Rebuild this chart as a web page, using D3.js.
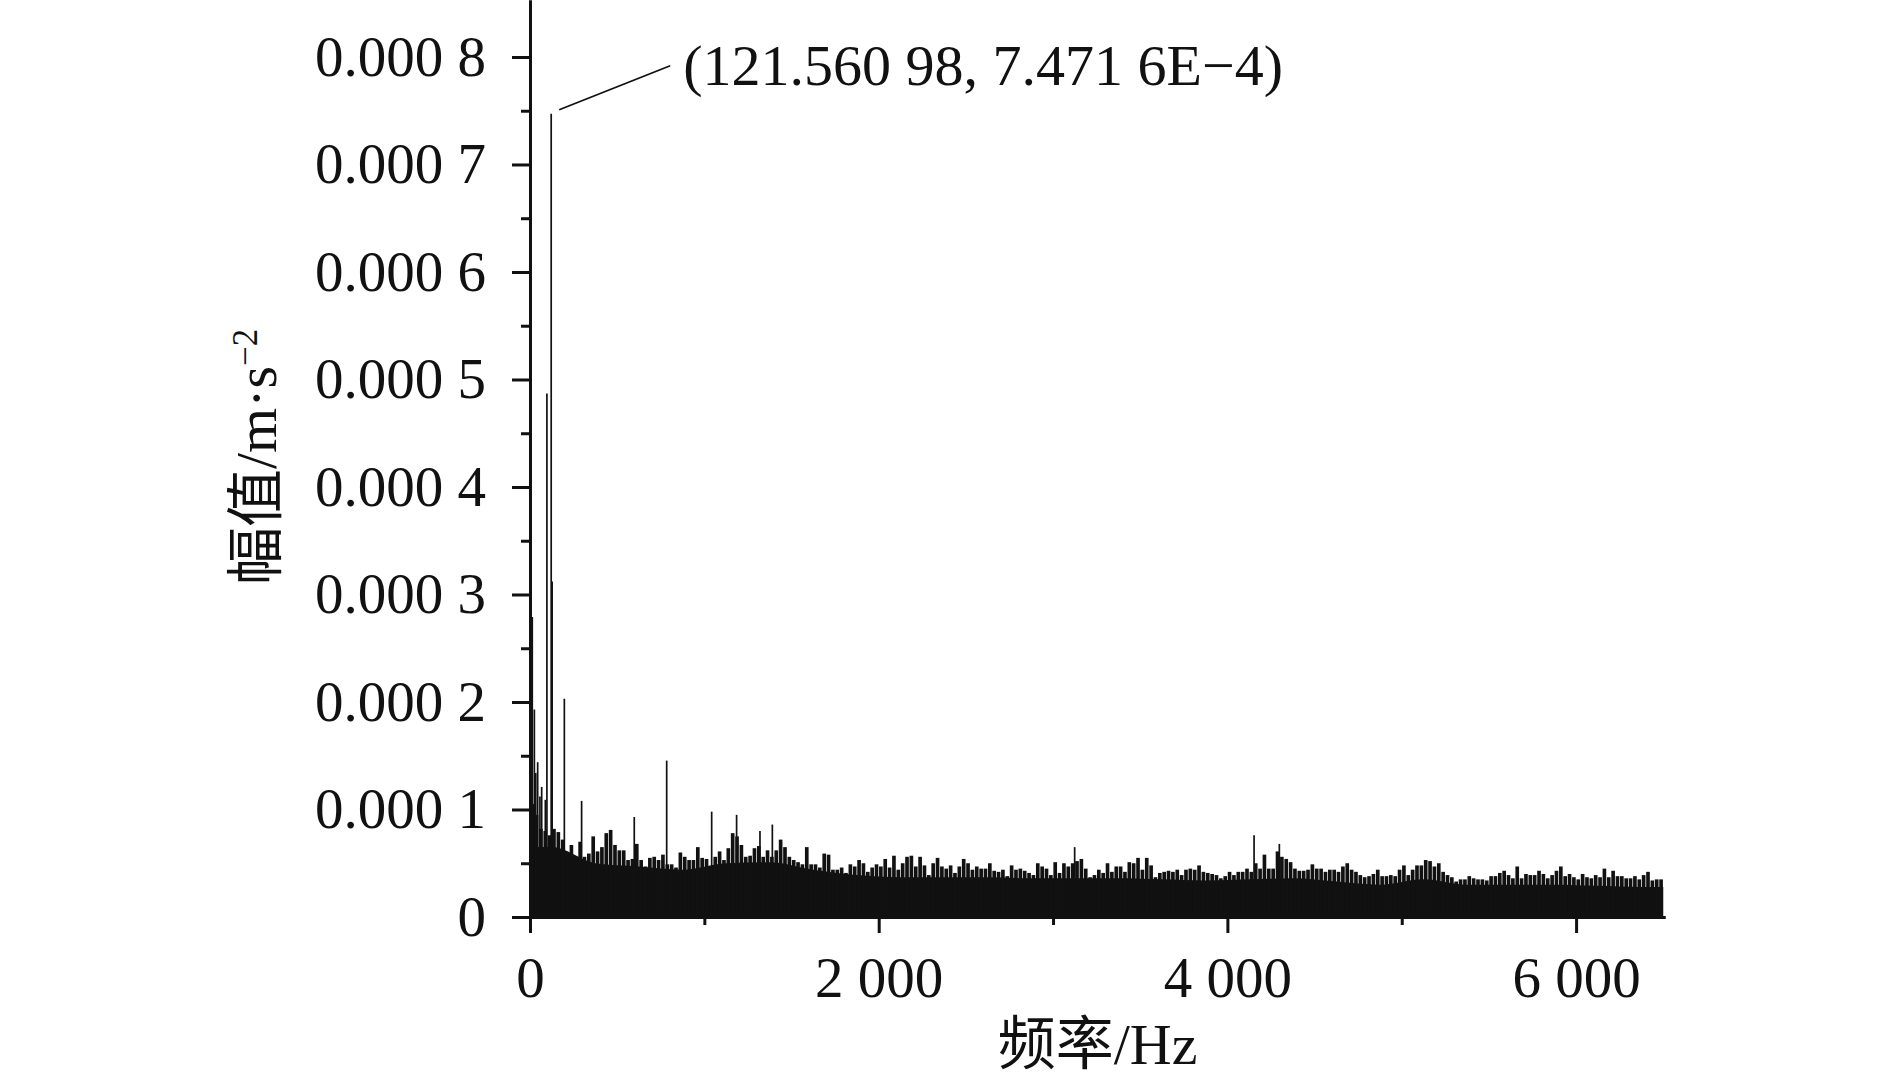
<!DOCTYPE html>
<html>
<head>
<meta charset="utf-8">
<script src="https://cdn.jsdelivr.net/npm/d3@7"></script>
<style>
  body { margin: 0; background: #fff; }
  svg { display: block; font-family: "Liberation Serif", "Times New Roman", "Noto Sans CJK SC", serif; }
</style>
</head>
<body>
<svg id="canvas" width="1890" height="1079"></svg>
<script>
// amplitude values are in units of 1e-5 m/s^2
let ampUnit = 1e-5;

// highest value in each 25 Hz bin (0 .. 6500 Hz)
let binHz = 25;
let envelope = [
  10.5, 9.5, 8.2, 8.0, 7.6, 8.2, 7.9, 7.2, 5.6, 6.7,   // 0
  5.6, 7.0, 5.6, 5.9, 7.5, 6.1, 6.5, 7.8, 8.1, 6.7,    // 250
  6.2, 6.2, 5.3, 5.4, 6.8, 5.3, 4.7, 5.5, 5.6, 5.3,    // 500
  5.8, 4.9, 4.9, 4.6, 6.0, 5.6, 5.3, 5.3, 6.5, 5.5,    // 750
  5.4, 4.6, 5.6, 6.1, 5.3, 6.4, 7.8, 7.5, 6.7, 5.6,    // 1000
  5.7, 6.4, 6.6, 5.6, 6.2, 5.6, 6.2, 7.2, 6.5, 5.6,    // 1250
  5.3, 5.1, 4.9, 6.5, 4.9, 4.9, 4.6, 5.9, 5.8, 4.4,    // 1500
  4.4, 4.6, 4.1, 4.9, 4.7, 5.3, 5.0, 4.2, 4.6, 4.9,    // 1750
  4.7, 5.4, 4.6, 5.7, 4.4, 5.0, 5.6, 5.7, 4.7, 5.6,    // 2000
  4.8, 3.9, 5.0, 5.5, 4.7, 4.5, 4.8, 4.1, 4.7, 5.4,    // 2250
  5.0, 4.4, 4.7, 4.5, 4.5, 5.0, 4.3, 4.2, 4.4, 3.8,    // 2500
  4.8, 4.4, 4.5, 4.3, 4.1, 3.9, 5.0, 4.7, 4.5, 3.9,    // 2750
  5.1, 4.1, 5.0, 4.7, 5.0, 5.2, 5.4, 4.5, 3.7, 3.9,    // 3000
  4.4, 4.1, 5.0, 4.2, 4.7, 4.7, 4.2, 5.1, 5.0, 5.5,    // 3250
  4.4, 5.5, 4.8, 3.7, 4.1, 4.2, 4.3, 4.2, 4.4, 3.9,    // 3500
  4.4, 4.5, 4.4, 4.8, 4.2, 4.1, 4.0, 3.9, 3.6, 3.8,    // 3750
  4.2, 3.9, 4.2, 4.2, 4.5, 4.2, 5.0, 4.5, 5.8, 4.5,    // 4000
  4.5, 6.1, 5.6, 5.4, 5.1, 4.5, 4.3, 4.3, 4.4, 4.9,    // 4250
  4.5, 4.5, 4.2, 4.4, 4.4, 4.2, 4.7, 5.0, 4.4, 4.2,    // 4500
  3.9, 3.7, 3.8, 4.0, 4.4, 3.8, 3.8, 3.9, 3.8, 4.4,    // 4750
  4.8, 3.9, 4.4, 4.8, 4.8, 5.3, 5.2, 4.7, 5.0, 4.2,    // 5000
  3.9, 3.7, 3.3, 3.5, 3.5, 3.8, 3.6, 3.5, 3.5, 3.4,    // 5250
  3.8, 3.8, 4.1, 4.3, 3.9, 3.6, 4.7, 3.6, 4.0, 3.9,    // 5500
  3.9, 4.3, 4.0, 3.6, 3.9, 4.3, 4.7, 3.8, 4.0, 3.7,    // 5750
  3.5, 4.0, 3.7, 3.6, 3.9, 3.7, 4.5, 3.7, 4.3, 3.8,    // 6000
  3.8, 3.6, 3.6, 3.8, 3.5, 3.9, 4.2, 3.4, 3.5, 3.5     // 6250
];

// solid (dense) level of the spectrum in each 250 Hz band
let floorHz = 250;
let floorLevel = [
  6.5, 5.0, 4.7, 4.4, 5.0, 5.1, 4.4, 3.9, 3.7, 3.7,
  3.7, 3.6, 3.6, 3.6, 3.5, 3.4, 3.5, 3.6, 3.3, 3.0,
  3.5, 3.0, 3.0, 3.0, 2.9, 2.8
];

// isolated tall lines
let spikeFreq = [13, 25, 33, 44, 57, 67, 88, 97, 121.56098, 127, 197, 296, 598, 784, 1042, 1185, 1319, 1390, 3124, 4153, 4298];
let spikeAmp  = [27.9, 19.3, 13.4, 14.4, 11.2, 12.1, 10.9, 48.7, 74.716, 31.2, 20.3, 10.8, 9.3, 14.55, 9.8, 9.5, 8.0, 8.6, 6.5, 7.6, 6.8];

let xTicks = [0, 2000, 4000, 6000];
let xMinorTicks = [1000, 3000, 5000];
let yTicks = [0, 0.0001, 0.0002, 0.0003, 0.0004, 0.0005, 0.0006, 0.0007, 0.0008];
let yMinorTicks = [0.00005, 0.00015, 0.00025, 0.00035, 0.00045, 0.00055, 0.00065, 0.00075];

let peakFreq = 121.56098;
let peakAmp = 7.4716e-4;
let peakLabel = '(121.560 98, 7.471 6E\u22124)';

let xTitle = '频率/Hz';
let yTitle = '幅值/m·s';
let yTitleSup = '\u22122';

let ink = '#111';
let canvas = d3.select('#canvas');

let x = d3.scaleLinear().domain([0, 6510]).range([530, 1665]);
let y = d3.scaleLinear().domain([0, 0.000853]).range([917, 0]);

let plot = canvas.append('g');

// dense part of the spectrum
let floorData = floorLevel.map((v, i) => ({ f: i * floorHz + floorHz / 2, a: v * ampUnit }));
floorData.unshift({ f: 0, a: floorLevel[0] * ampUnit });
floorData.push({ f: 6500, a: floorLevel[floorLevel.length - 1] * ampUnit });

plot.append('path')
  .datum(floorData)
  .attr('fill', ink)
  .attr('d', d3.area()
    .x(d => x(d.f))
    .y0(y(0))
    .y1(d => y(d.a))
    .curve(d3.curveMonotoneX));

// per-bin peaks
let binW = x(binHz) - x(0);
plot.selectAll('rect.bin')
  .data(envelope)
  .enter()
  .append('rect')
  .attr('class', 'bin')
  .attr('x', (d, i) => x(i * binHz + binHz / 2) - binW * 0.42)
  .attr('width', binW * 0.84)
  .attr('y', d => y(d * ampUnit))
  .attr('height', d => y(0) - y(d * ampUnit))
  .attr('fill', ink);

// tall lines
plot.selectAll('line.spike')
  .data(spikeFreq)
  .enter()
  .append('line')
  .attr('class', 'spike')
  .attr('x1', d => x(d))
  .attr('x2', d => x(d))
  .attr('y1', y(0))
  .attr('y2', (d, i) => y(spikeAmp[i] * ampUnit))
  .attr('stroke', ink)
  .attr('stroke-width', 1.7);

// axes
let fmtX = d => d === 0 ? '0' : d3.format(',')(d).replace(',', ' ');
let fmtY = d => d === 0 ? '0' : '0.000 ' + Math.round(d * 1e4);

canvas.append('g')
  .attr('transform', `translate(0,${y(0)})`)
  .call(d3.axisBottom(x).tickValues(xTicks).tickFormat(fmtX).tickSize(16).tickSizeOuter(0).tickPadding(24));

canvas.append('g')
  .attr('transform', `translate(0,${y(0)})`)
  .call(d3.axisBottom(x).tickValues(xMinorTicks).tickFormat('').tickSize(8).tickSizeOuter(0));

canvas.append('g')
  .attr('transform', `translate(${x(0)},0)`)
  .call(d3.axisLeft(y).tickValues(yTicks).tickFormat(fmtY).tickSize(18).tickSizeOuter(0).tickPadding(26));

canvas.append('g')
  .attr('transform', `translate(${x(0)},0)`)
  .call(d3.axisLeft(y).tickValues(yMinorTicks).tickFormat('').tickSize(9).tickSizeOuter(0));

canvas.selectAll('.domain').attr('stroke', ink).attr('stroke-width', 3);
canvas.selectAll('.tick line').attr('stroke', ink).attr('stroke-width', 3);
canvas.selectAll('.tick text')
  .attr('fill', ink)
  .style('font-family', '"Liberation Serif", "Times New Roman", serif')
  .style('font-size', '57px');

// axis titles
canvas.append('text')
  .attr('x', (x(0) + x(6510)) / 2)
  .attr('y', 1064)
  .attr('text-anchor', 'middle')
  .attr('fill', ink)
  .style('font-size', '58px')
  .text(xTitle);

let yt = canvas.append('text')
  .attr('transform', `translate(276,${y(0.000428)}) rotate(-90)`)
  .attr('text-anchor', 'middle')
  .attr('fill', ink)
  .style('font-size', '58px');
yt.append('tspan').text(yTitle);
yt.append('tspan')
  .attr('dy', '-0.55em')
  .style('font-size', '35px')
  .text(yTitleSup);

// peak annotation
let px = x(peakFreq);
let py = y(peakAmp);
canvas.append('line')
  .attr('x1', px + 8)
  .attr('y1', py - 4)
  .attr('x2', px + 119)
  .attr('y2', py - 48)
  .attr('stroke', ink)
  .attr('stroke-width', 1.8);

canvas.append('text')
  .attr('x', px + 132)
  .attr('y', py - 29)
  .attr('fill', ink)
  .style('font-size', '58px')
  .text(peakLabel);
</script>
</body>
</html>
